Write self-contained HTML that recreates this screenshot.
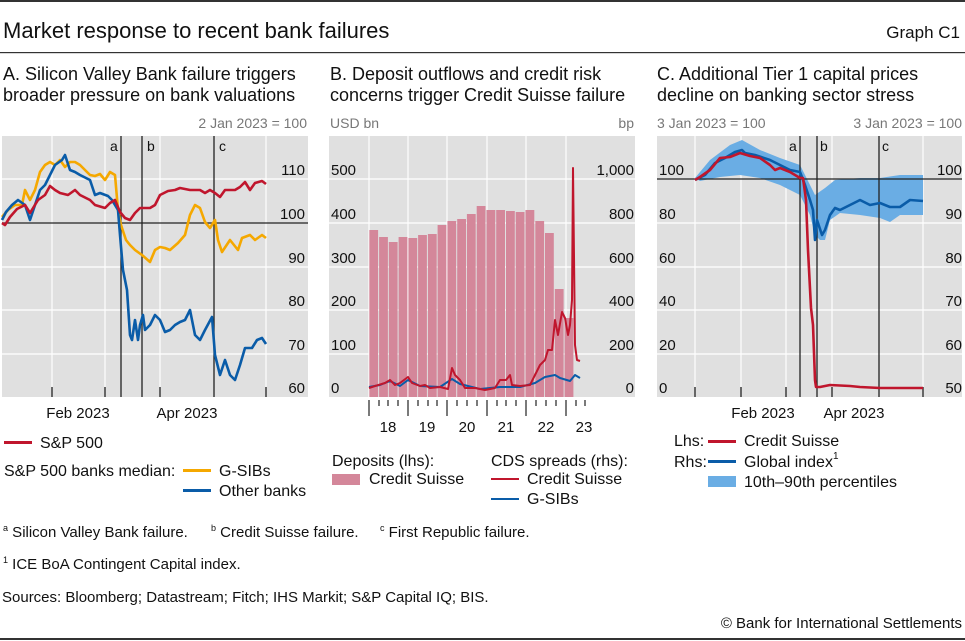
<!DOCTYPE html>
<html><head><meta charset="utf-8"><style>
body{margin:0;background:#fff}
svg{display:block;font-family:"Liberation Sans",sans-serif}
</style></head><body>
<svg width="965" height="641" viewBox="0 0 965 641">
<rect x="0" y="0" width="965" height="2" fill="#333"/>
<text x="3" y="38" font-size="22" fill="#111">Market response to recent bank failures</text>
<text x="960" y="38" font-size="17" fill="#111" text-anchor="end">Graph C1</text>
<rect x="0" y="52" width="965" height="1.2" fill="#333"/>
<g font-size="18" fill="#111">
<text x="3" y="80">A. Silicon Valley Bank failure triggers</text>
<text x="3" y="101">broader pressure on bank valuations</text>
<text x="330" y="80">B. Deposit outflows and credit risk</text>
<text x="330" y="101">concerns trigger Credit Suisse failure</text>
<text x="657" y="80">C. Additional Tier 1 capital prices</text>
<text x="657" y="101">decline on banking sector stress</text>
</g>
<g font-size="14" fill="#777">
<text x="307" y="128" text-anchor="end">2 Jan 2023 = 100</text>
<text x="330" y="128">USD bn</text>
<text x="634" y="128" text-anchor="end">bp</text>
<text x="657" y="128">3 Jan 2023 = 100</text>
<text x="962" y="128" text-anchor="end">3 Jan 2023 = 100</text>
</g>
<!-- Panel A -->
<rect x="2" y="136" width="306" height="261" fill="#e0e0e0"/>
<g stroke="#fff" stroke-width="1.2">
<line x1="2" x2="308" y1="179" y2="179"/><line x1="2" x2="308" y1="267" y2="267"/><line x1="2" x2="308" y1="310" y2="310"/><line x1="2" x2="308" y1="354" y2="354"/>
<line x1="52" x2="52" y1="136" y2="397"/><line x1="105" x2="105" y1="136" y2="397"/><line x1="160" x2="160" y1="136" y2="397"/><line x1="266" x2="266" y1="136" y2="397"/>
</g>
<line x1="2" x2="308" y1="223" y2="223" stroke="#222" stroke-width="1.2"/>
<g stroke="#222" stroke-width="1.3"><line x1="121" x2="121" y1="136" y2="397"/><line x1="142" x2="142" y1="136" y2="397"/><line x1="214" x2="214" y1="136" y2="397"/>
<line x1="52" x2="52" y1="387" y2="397"/><line x1="105" x2="105" y1="387" y2="397"/><line x1="160" x2="160" y1="387" y2="397"/><line x1="266" x2="266" y1="387" y2="397"/></g>
<g font-size="14" fill="#111"><text x="110" y="151">a</text><text x="147" y="151">b</text><text x="219" y="151">c</text></g>
<g font-size="15" fill="#111" text-anchor="end"><text x="305" y="175">110</text><text x="305" y="219">100</text><text x="305" y="263">90</text><text x="305" y="306">80</text><text x="305" y="350">70</text><text x="305" y="393">60</text></g>
<g font-size="15" fill="#111" text-anchor="middle"><text x="78" y="418">Feb 2023</text><text x="187" y="418">Apr 2023</text></g>
<g fill="none" stroke-width="2.6" stroke-linejoin="round">
<polyline stroke="#f5a800" points="2,217 8,210 15,205 22,205 25,190 30,200 35,190 40,172 45,165 50,162 55,165 60,160 65,167 70,162 75,162 80,165 90,175 95,176 100,174 105,180 110,172 115,175 118,210 121,225 126,240 130,245 135,250 142,255 150,262 155,250 160,247 165,248 170,250 178,243 185,235 190,215 195,205 200,208 205,222 210,228 215,220 218,240 222,252 230,240 238,250 242,238 250,235 255,240 262,235 266,238"/>
<polyline stroke="#0a5ca8" points="2,220 6,212 12,205 18,200 25,205 30,220 35,205 40,190 45,185 50,175 55,165 62,160 65,155 70,170 75,172 80,175 90,180 95,195 100,193 108,196 112,200 118,210 120,235 123,270 127,290 130,335 132,340 135,320 138,340 140,325 143,315 145,330 150,325 155,315 160,320 165,332 170,330 175,325 180,322 185,320 190,310 195,335 200,340 205,330 212,317 215,355 220,375 225,360 230,375 235,380 240,365 245,348 252,348 257,340 262,338 266,344"/>
<polyline stroke="#c0162d" points="2,223 5,225 10,217 17,209 25,205 30,213 38,200 45,195 50,186 55,190 60,193 68,195 75,190 80,195 90,200 95,205 105,208 110,203 115,200 120,212 125,218 130,220 135,213 140,208 150,208 155,205 160,195 168,191 175,190 180,188 190,190 200,190 205,193 210,190 215,193 220,197 225,190 235,190 240,187 245,182 250,190 255,183 262,181 266,184"/>
</g>
<!-- Panel B -->
<rect x="329" y="136" width="306" height="261" fill="#e0e0e0"/>
<g stroke="#fff" stroke-width="1.2">
<line x1="329" x2="635" y1="179" y2="179"/><line x1="329" x2="635" y1="223" y2="223"/><line x1="329" x2="635" y1="267" y2="267"/><line x1="329" x2="635" y1="310" y2="310"/><line x1="329" x2="635" y1="354" y2="354"/>
<line x1="369" x2="369" y1="136" y2="397"/><line x1="408" x2="408" y1="136" y2="397"/><line x1="447" x2="447" y1="136" y2="397"/><line x1="487" x2="487" y1="136" y2="397"/><line x1="526" x2="526" y1="136" y2="397"/><line x1="566" x2="566" y1="136" y2="397"/>
</g>
<g fill="#d4879a">
<rect x="369.3" y="230" width="8.8" height="167"/><rect x="379.1" y="237" width="8.8" height="160"/><rect x="388.8" y="242" width="8.8" height="155"/><rect x="398.6" y="237" width="8.8" height="160"/><rect x="408.4" y="238" width="8.8" height="159"/><rect x="418.1" y="235" width="8.8" height="162"/><rect x="427.9" y="234" width="8.8" height="163"/><rect x="437.6" y="225" width="8.8" height="172"/><rect x="447.4" y="221" width="8.8" height="176"/><rect x="457.2" y="219" width="8.8" height="178"/><rect x="466.9" y="214" width="8.8" height="183"/><rect x="476.7" y="206" width="8.8" height="191"/><rect x="486.5" y="210" width="8.8" height="187"/><rect x="496.2" y="210" width="8.8" height="187"/><rect x="506" y="211" width="8.8" height="186"/><rect x="515.7" y="212" width="8.8" height="185"/><rect x="525.5" y="210" width="8.8" height="187"/><rect x="535.3" y="221" width="8.8" height="176"/><rect x="545" y="233" width="8.8" height="164"/><rect x="554.8" y="289" width="8.8" height="108"/><rect x="564.6" y="318" width="8.8" height="79"/>
</g>
<g fill="none" stroke-width="2" stroke-linejoin="round">
<polyline stroke="#0a5ca8" points="369,387 380,385 390,381 400,386 408,380 420,386 440,387 452,379 460,384 480,389 500,387 520,387 535,383 545,377 555,375 560,378 570,381 575,375 580,378"/>
<polyline stroke="#c0162d" points="369,388 375,386 385,383 390,380 395,385 400,383 408,377 412,383 420,386 425,385 430,388 440,387 448,389 452,368 455,375 460,380 465,388 475,388 485,390 495,388 500,380 506,380 510,375 512,385 520,386 530,385 535,375 540,365 545,360 548,350 552,350 555,320 558,335 562,312 565,318 568,335 570,325 572,300 573,168 575,345 577,360 580,361"/>
</g>
<g stroke="#222" stroke-width="1.2">
<line x1="369" x2="369" y1="400" y2="416"/><line x1="408" x2="408" y1="400" y2="416"/><line x1="447" x2="447" y1="400" y2="416"/><line x1="487" x2="487" y1="400" y2="416"/><line x1="526" x2="526" y1="400" y2="416"/><line x1="566" x2="566" y1="400" y2="416"/>
<line x1="379" x2="379" y1="400" y2="406"/><line x1="388" x2="388" y1="400" y2="406"/><line x1="398" x2="398" y1="400" y2="406"/><line x1="418" x2="418" y1="400" y2="406"/><line x1="428" x2="428" y1="400" y2="406"/><line x1="437" x2="437" y1="400" y2="406"/><line x1="457" x2="457" y1="400" y2="406"/><line x1="467" x2="467" y1="400" y2="406"/><line x1="477" x2="477" y1="400" y2="406"/><line x1="497" x2="497" y1="400" y2="406"/><line x1="506" x2="506" y1="400" y2="406"/><line x1="516" x2="516" y1="400" y2="406"/><line x1="536" x2="536" y1="400" y2="406"/><line x1="546" x2="546" y1="400" y2="406"/><line x1="556" x2="556" y1="400" y2="406"/><line x1="576" x2="576" y1="400" y2="406"/><line x1="585" x2="585" y1="400" y2="406"/>
</g>
<g font-size="15" fill="#111"><text x="331" y="175">500</text><text x="331" y="219">400</text><text x="331" y="263">300</text><text x="331" y="306">200</text><text x="331" y="350">100</text><text x="331" y="393">0</text></g>
<g font-size="15" fill="#111" text-anchor="end"><text x="634" y="175">1,000</text><text x="634" y="219">800</text><text x="634" y="263">600</text><text x="634" y="306">400</text><text x="634" y="350">200</text><text x="634" y="393">0</text></g>
<g font-size="15" fill="#111" text-anchor="middle"><text x="388" y="432">18</text><text x="427" y="432">19</text><text x="467" y="432">20</text><text x="506" y="432">21</text><text x="546" y="432">22</text><text x="584" y="432">23</text></g>
<!-- Panel C -->
<rect x="657" y="136" width="305" height="261" fill="#e0e0e0"/>
<g stroke="#fff" stroke-width="1.2">
<line x1="657" x2="962" y1="223" y2="223"/><line x1="657" x2="962" y1="267" y2="267"/><line x1="657" x2="962" y1="310" y2="310"/><line x1="657" x2="962" y1="354" y2="354"/>
<line x1="695" x2="695" y1="136" y2="397"/><line x1="741" x2="741" y1="136" y2="397"/><line x1="786" x2="786" y1="136" y2="397"/><line x1="832" x2="832" y1="136" y2="397"/><line x1="923" x2="923" y1="136" y2="397"/>
</g>
<polygon fill="#6aade4" points="695,178 710,160 730,145 742,140 760,150 780,158 800,165 810,185 815,195 825,188 835,180 860,178 880,178 900,175 923,175 923,215 900,215 890,222 880,218 860,215 840,213 830,220 825,240 820,240 815,235 810,215 800,195 780,185 760,178 740,175 720,177 700,181"/>
<line x1="657" x2="962" y1="179" y2="179" stroke="#222" stroke-width="1.2"/>
<g stroke="#222" stroke-width="1.3"><line x1="800" x2="800" y1="136" y2="397"/><line x1="817" x2="817" y1="136" y2="397"/><line x1="879" x2="879" y1="136" y2="397"/>
<line x1="695" x2="695" y1="387" y2="397"/><line x1="741" x2="741" y1="387" y2="397"/><line x1="786" x2="786" y1="387" y2="397"/><line x1="832" x2="832" y1="387" y2="397"/><line x1="923" x2="923" y1="387" y2="397"/></g>
<g font-size="14" fill="#111"><text x="789" y="151">a</text><text x="820" y="151">b</text><text x="882" y="151">c</text></g>
<g fill="none" stroke-width="2.6" stroke-linejoin="round">
<polyline stroke="#0a5ca8" points="695,180 705,175 715,163 725,158 735,152 742,150 745,153 755,155 770,160 780,165 790,170 800,172 805,185 810,200 813,210 815,240 817,220 822,235 825,230 830,215 835,208 840,210 850,205 860,200 870,205 880,203 890,207 900,207 910,200 923,201"/>
<polyline stroke="#c0162d" points="695,180 700,177 710,170 720,158 730,157 740,153 750,156 760,158 770,165 775,170 780,168 790,172 800,178 803,178 806,200 808,250 811,308 813,325 815,380 816,387 820,387 830,385 850,386 860,387 880,388 900,388 923,388"/>
</g>
<g font-size="15" fill="#111"><text x="659" y="175">100</text><text x="659" y="219">80</text><text x="659" y="263">60</text><text x="659" y="306">40</text><text x="659" y="350">20</text><text x="659" y="393">0</text></g>
<g font-size="15" fill="#111" text-anchor="end"><text x="962" y="175">100</text><text x="962" y="219">90</text><text x="962" y="263">80</text><text x="962" y="306">70</text><text x="962" y="350">60</text><text x="962" y="393">50</text></g>
<g font-size="15" fill="#111" text-anchor="middle"><text x="763" y="418">Feb 2023</text><text x="854" y="418">Apr 2023</text></g>
<!-- Legends -->
<g font-size="16" fill="#111">
<rect x="4" y="441" width="28" height="3" fill="#c0162d"/><text x="40" y="448">S&amp;P 500</text>
<text x="4" y="476">S&amp;P 500 banks median:</text>
<rect x="183" y="469" width="28" height="3" fill="#f5a800"/><text x="219" y="476">G-SIBs</text>
<rect x="183" y="489" width="28" height="3" fill="#0a5ca8"/><text x="219" y="496">Other banks</text>
<text x="332" y="466">Deposits (lhs):</text>
<rect x="332" y="474" width="28" height="11" fill="#d4879a"/><text x="369" y="484">Credit Suisse</text>
<text x="491" y="466">CDS spreads (rhs):</text>
<rect x="491" y="478" width="28" height="2" fill="#c0162d"/><text x="527" y="484">Credit Suisse</text>
<rect x="491" y="498" width="28" height="2" fill="#0a5ca8"/><text x="527" y="504">G-SIBs</text>
<text x="674" y="446">Lhs:</text>
<rect x="708" y="440" width="28" height="3" fill="#c0162d"/><text x="744" y="446">Credit Suisse</text>
<text x="674" y="467">Rhs:</text>
<rect x="708" y="460" width="28" height="3" fill="#0a5ca8"/><text x="744" y="467">Global index<tspan font-size="10" dy="-8">1</tspan></text>
<rect x="708" y="476" width="28" height="11" fill="#6aade4"/><text x="744" y="487">10th–90th percentiles</text>
</g>
<g font-size="15" fill="#111">
<text x="3" y="537"><tspan font-size="9" dy="-6">a</tspan><tspan dy="6"> Silicon Valley Bank failure.</tspan></text>
<text x="211" y="537"><tspan font-size="9" dy="-6">b</tspan><tspan dy="6"> Credit Suisse failure.</tspan></text>
<text x="380" y="537"><tspan font-size="9" dy="-6">c</tspan><tspan dy="6"> First Republic failure.</tspan></text>
<text x="3" y="569"><tspan font-size="9" dy="-6">1</tspan><tspan dy="6"> ICE BoA Contingent Capital index.</tspan></text>
<text x="2" y="602">Sources: Bloomberg; Datastream; Fitch; IHS Markit; S&amp;P Capital IQ; BIS.</text>
<text x="962" y="628" text-anchor="end">© Bank for International Settlements</text>
</g>
<rect x="0" y="638" width="965" height="2" fill="#333"/>
</svg>
</body></html>
